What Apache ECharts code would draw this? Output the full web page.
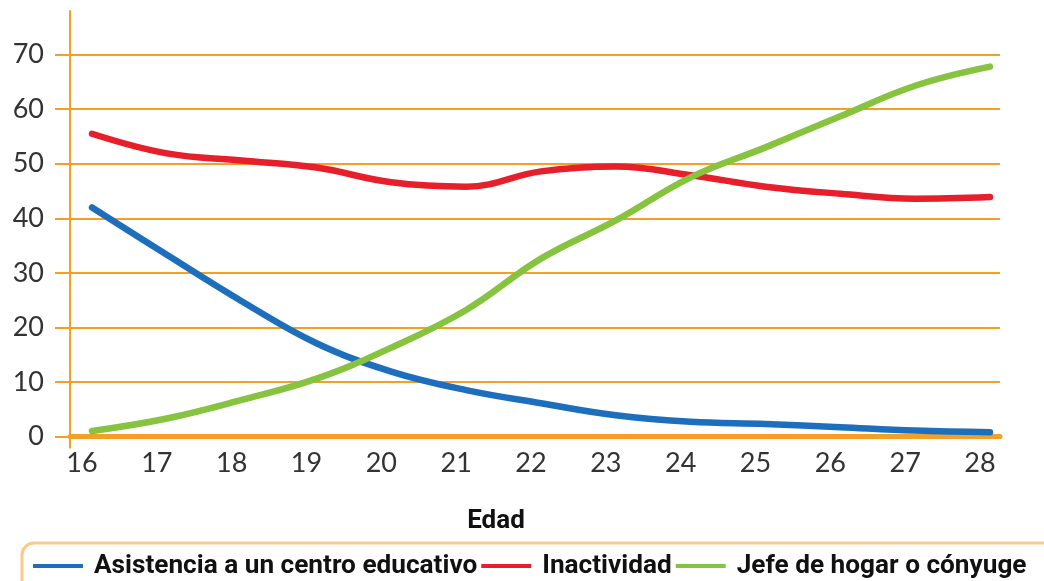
<!DOCTYPE html>
<html>
<head>
<meta charset="utf-8">
<script src="https://cdn.jsdelivr.net/npm/echarts@6/dist/echarts.min.js"></script>
<style>
  html, body { margin: 0; padding: 0; background: #ffffff; }
  #chart { width: 1044px; height: 581px; }
</style>
</head>
<body>
<div id="chart"></div>
<script>
// Ages on the horizontal axis
const ages = [16, 17, 18, 19, 20, 21, 22, 23, 24, 25, 26, 27, 28];

// Percentages by age
const asistencia = [42.0, 33.3, 24.8, 17.1, 11.9, 8.5, 6.1, 3.9, 2.7, 2.3, 1.7, 1.1, 0.8];
const inactividad = [55.5, 51.9, 50.6, 49.3, 46.6, 45.8, 48.6, 49.5, 47.9, 45.8, 44.5, 43.6, 43.9];
const jefeHogar = [1.0, 3.3, 6.7, 10.6, 16.3, 23.2, 32.6, 39.6, 47.5, 53.0, 58.7, 64.3, 67.8];

const seriesNames = ['Asistencia a un centro educativo', 'Inactividad', 'Jefe de hogar o cónyuge'];
const yTicks = [0, 10, 20, 30, 40, 50, 60, 70];

const ORANGE = '#f5a024';
const NUM_FONT = 'Lato, "Noto Sans", sans-serif';
const BOLD_FONT = 'Roboto, "Noto Sans", sans-serif';

const X_MIN = 15.706;
const X_MAX = 28.134;

const pairs = vals => ages.map((a, i) => [a, vals[i]]);

const chart = echarts.init(document.getElementById('chart'), null, { renderer: 'canvas' });

const lineSeries = (name, vals, color) => ({
  name,
  type: 'line',
  data: pairs(vals),
  smooth: 0.4,
  showSymbol: false,
  symbol: 'none',
  clip: false,
  lineStyle: { color, width: 6.5, cap: 'round', join: 'round' },
  itemStyle: { color }
});

chart.setOption({
  backgroundColor: '#ffffff',
  animation: false,
  grid: { left: 70, right: 44, top: 11, bottom: 144.5, containLabel: false },
  xAxis: {
    type: 'value',
    min: X_MIN,
    max: X_MAX,
    name: 'Edad',
    nameLocation: 'middle',
    nameGap: 72,
    nameTextStyle: {
      fontFamily: BOLD_FONT, fontWeight: 'bold', fontSize: 26, color: '#111111',
      padding: [0, 78, 0, 0]
    },
    axisLine: { show: true, lineStyle: { color: ORANGE, width: 5 } },
    axisTick: { show: true, customValues: [X_MIN], length: 12, lineStyle: { color: ORANGE, width: 2 } },
    splitLine: { show: false },
    axisLabel: {
      customValues: ages,
      formatter: v => String(Math.round(v)),
      fontFamily: NUM_FONT, fontSize: 27, color: '#333333',
      margin: 13,
      padding: [0, 20, 0, 0]
    }
  },
  yAxis: {
    type: 'value',
    min: 0,
    max: 78,
    interval: 10,
    axisLine: { show: true, lineStyle: { color: ORANGE, width: 2 } },
    axisTick: { show: true, customValues: yTicks, length: 15, lineStyle: { color: ORANGE, width: 2 } },
    splitLine: { show: true, lineStyle: { color: ORANGE, width: 2 } },
    axisLabel: {
      customValues: yTicks,
      fontFamily: NUM_FONT, fontSize: 27, color: '#333333',
      margin: 26
    }
  },
  legend: {
    left: 22,
    top: 543,
    width: 1100,
    orient: 'horizontal',
    icon: 'rect',
    itemWidth: 50,
    itemHeight: 4,
    itemGap: 4,
    padding: [10, 40, 40, 11],
    borderColor: '#fbc98a',
    borderWidth: 3,
    borderRadius: 12,
    textStyle: {
      fontFamily: BOLD_FONT, fontWeight: 'bold', fontSize: 26.2, color: '#111111',
      padding: [0, 0, 0, 6]
    },
    data: seriesNames
  },
  series: [
    lineSeries(seriesNames[0], asistencia, '#1d6fbd'),
    lineSeries(seriesNames[1], inactividad, '#e61f2b'),
    lineSeries(seriesNames[2], jefeHogar, '#86c33f')
  ]
});
</script>
</body>
</html>
